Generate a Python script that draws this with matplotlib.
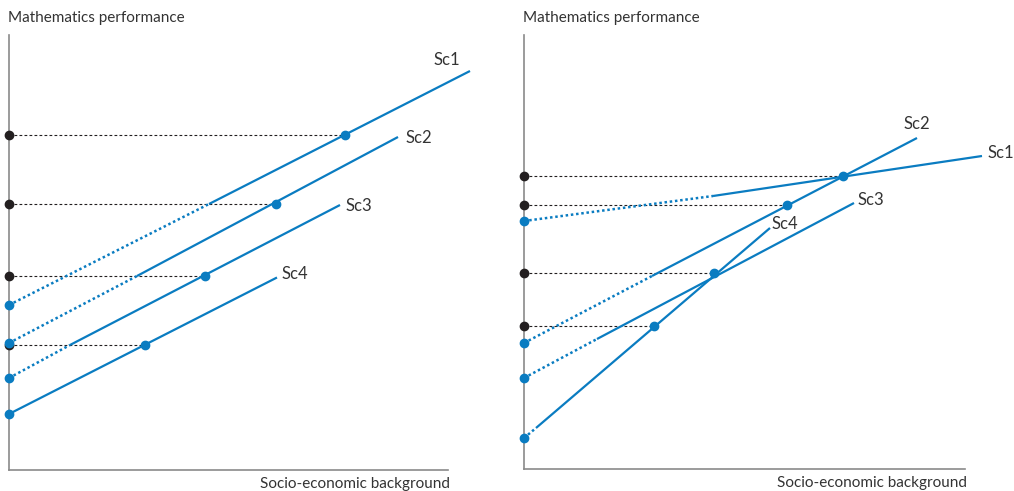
import matplotlib
matplotlib.use("Agg")
import matplotlib.pyplot as plt

plt.rcParams['font.family'] = ['Lato', 'DejaVu Sans']

# scenario names
names = ['Sc1', 'Sc2', 'Sc3', 'Sc4']

# left panel (parallel gradients); x/y in arbitrary units
left_start = [(0, 165), (0, 127), (0, 92), (0, 56)]
left_break = [(200, 266), (128, 194), (61, 125), None]   # where dotted turns solid
left_end = [(461, 399), (389, 333), (331, 265), (267, 192)]
left_dot = [(336, 335), (267, 266), (196, 194), (136, 125)]
left_label = [(424, 410), (396, 332), (336, 264), (273, 196)]

# right panel (different gradients)
right_start = [(0, 248), (0, 126), (0, 91), (0, 31)]
right_break = [(189, 273), (128, 193), (73, 130), (12, 41)]
right_end = [(458, 313), (393, 331), (330, 266), (246, 241)]
right_dot = [(319, 293), (263, 264), (190, 196), (130, 143)]
right_label = [(463, 316), (379, 345), (333, 269), (248, 245)]

BLUE = '#0a7cc1'
BLACK = '#231f20'
GREY = '#8a8a8a'
W, H = 1014, 491


def draw_panel(ax, starts, breaks, ends, dots, labels, xmax, ymax):
    ax.set_xlim(0, xmax)
    ax.set_ylim(0, ymax)
    for s in ['top', 'right']:
        ax.spines[s].set_visible(False)
    for s in ['left', 'bottom']:
        ax.spines[s].set_color(GREY)
        ax.spines[s].set_linewidth(1.2)
    ax.set_xticks([])
    ax.set_yticks([])

    for i in range(len(starts)):
        s, b, e, d, lb = starts[i], breaks[i], ends[i], dots[i], labels[i]
        # dashed guide to the y axis
        ax.plot([0, d[0]], [d[1], d[1]], color=BLACK, lw=0.8,
                linestyle=(0, (2.5, 2)), zorder=2, clip_on=False)
        if b is not None:
            ax.plot([s[0], b[0]], [s[1], b[1]], color=BLUE, lw=1.8,
                    linestyle=(0, (1, 1.1)), zorder=3, clip_on=False)
            ax.plot([b[0], e[0]], [b[1], e[1]], color=BLUE, lw=1.6,
                    solid_capstyle='butt', zorder=3, clip_on=False)
        else:
            ax.plot([s[0], e[0]], [s[1], e[1]], color=BLUE, lw=1.6,
                    zorder=3, clip_on=False)
        ax.plot(0, d[1], 'o', color=BLACK, ms=6, zorder=4, clip_on=False)
        ax.plot(s[0], s[1], 'o', color=BLUE, ms=6, zorder=5, clip_on=False)
        ax.plot(d[0], d[1], 'o', color=BLUE, ms=6, zorder=5, clip_on=False)
        ax.text(lb[0], lb[1], names[i], fontsize=12, color='#333333',
                ha='left', va='center')

    ax.text(-0.002, 1.04, 'Mathematics performance', transform=ax.transAxes,
            fontsize=11, color='#333333', ha='left', va='center')
    ax.text(1.005, -0.033, 'Socio-economic background', transform=ax.transAxes,
            fontsize=11, color='#333333', ha='right', va='center')


fig = plt.figure(figsize=(W / 100, H / 100), dpi=100)
ax1 = fig.add_axes([9 / W, (H - 470) / H, 439 / W, 435 / H])
ax2 = fig.add_axes([524 / W, (H - 469) / H, 441 / W, 434 / H])

draw_panel(ax1, left_start, left_break, left_end, left_dot, left_label, 439, 435)
draw_panel(ax2, right_start, right_break, right_end, right_dot, right_label, 441, 434)

fig.savefig('out.png', dpi=100)
